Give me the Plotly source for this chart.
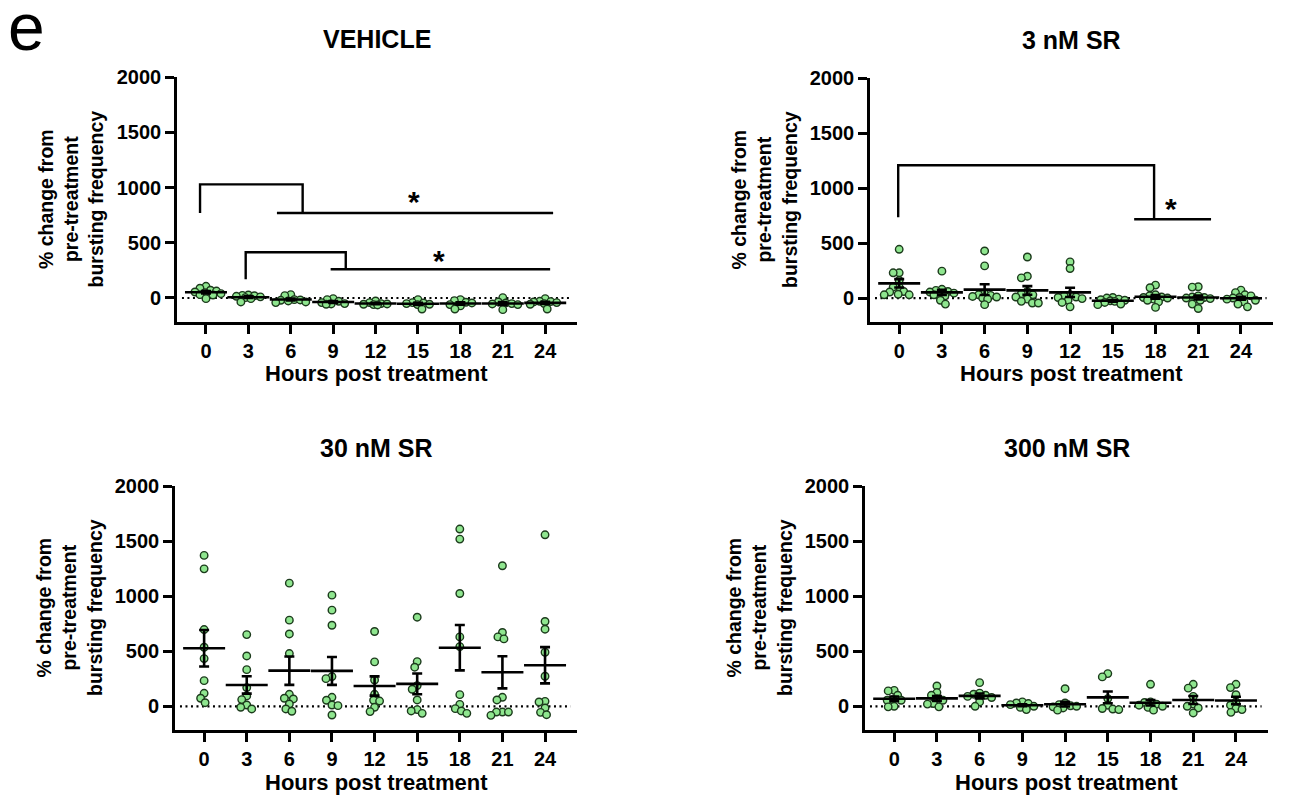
import numpy as np
import plotly.graph_objects as go

W, H = 1290, 798

# ---------------- data ----------------
hours = [0, 3, 6, 9, 12, 15, 18, 21, 24]
hour_labels = [str(h) for h in hours]
y_ticks = [0, 500, 1000, 1500, 2000]
panel_titles = ["VEHICLE", "3 nM SR", "30 nM SR", "300 nM SR"]

vehicle = [
    [106, 88, 70, 63, 54, 48, 39, 30, 27, -6],
    [27, 24, 20, 15, 10, 3, -6, -36],
    [30, 21, -15, -18, -21, -27, -36, -42],
    [-6, -15, -30, -42, -51, -54, -57],
    [-27, -42, -51, -54, -57, -60, -63],
    [-15, -42, -45, -51, -57, -60, -100],
    [-15, -24, -39, -45, -60, -72, -100],
    [3, -36, -45, -51, -54, -60, -106],
    [-6, -30, -33, -36, -42, -51, -57, -100],
]
sr_3nM = [
    [444, 230, 230, 160, 100, 100, 60, 55, 35, 30, 30],
    [245, 80, 70, 60, 55, 45, 40, 30, 20, -20, -55],
    [429, 293, 40, 30, 25, 15, 10, 0, -10, -60],
    [374, 199, 184, 60, 40, 30, 10, -10, -30, -45, -45],
    [329, 269, 30, 20, 10, 5, -5, -20, -40, -80],
    [5, 0, -10, -15, -20, -25, -30, -40, -55, -60],
    [118, 94, 30, 20, 10, 5, 0, -10, -20, -35, -85],
    [103, 100, 20, 10, 5, 0, -5, -10, -20, -55, -95],
    [72, 50, 30, 20, 5, 0, -10, -20, -35, -55, -80],
]
sr_30nM = [
    [1370, 1248, 697, 536, 433, 233, 118, 73, 33],
    [651, 457, 333, 170, 94, 61, 12, -9, -24],
    [1118, 782, 657, 479, 109, 73, 67, 21, -24, -45],
    [1009, 873, 736, 270, 251, 82, 55, 12, 6, -79],
    [679, 403, 239, 109, 55, 48, -9, -48],
    [809, 406, 355, 188, 155, 58, -30, -42, -64],
    [1609, 1518, 1024, 630, 542, 106, 18, -21, -42, -64],
    [1276, 670, 630, 612, 82, 58, -52, -52, -52, -82],
    [1557, 770, 700, 491, 273, 45, 39, -15, -55, -76],
]
sr_300nM = [
    [145, 140, 100, 60, 55, 55, 0, -5],
    [185, 125, 100, 70, 55, 25, 20, -5],
    [215, 120, 110, 100, 90, 80, 40, 0],
    [40, 30, 25, 15, 0, -10, -30],
    [160, 30, 15, 5, 0, -5, -15, -35],
    [297, 267, 70, 10, -20, -25, -30],
    [200, 40, 35, 20, 10, 0, -10, -35],
    [200, 165, 90, 20, 0, -15, -60],
    [200, 170, 105, 40, 10, -20, -30, -55],
]
panel_data = [vehicle, sr_3nM, sr_30nM, sr_300nM]

# ---------------- layout geometry (pixels) ----------------
# (left, right, top, bottom) of each plotting box
boxes = [
    (177, 577, 77.3, 321.7),
    (870, 1273, 78.3, 321.7),
    (175, 577, 486.0, 730.0),
    (865, 1268, 486.0, 730.0),
]
XR = [-2.05, 26.25]
YR = [-215, 2000]

FONT = "Liberation Sans, Arial, Helvetica, sans-serif"
PT_FILL = "#8FE68F"
PT_EDGE = "#1C3A1C"

# significance brackets (data coords) per panel
brackets = {
    0: [
        dict(path=[(-0.42, 770), (-0.42, 1030), (6.84, 1030), (6.84, 770)],
             line=[(5.02, 770), (24.56, 770)], star=(14.7, 930)),
        dict(path=[(2.81, 169), (2.81, 414), (9.89, 414), (9.89, 260)],
             line=[(8.82, 260), (24.35, 260)], star=(16.5, 396)),
    ],
    1: [
        dict(path=[(-0.07, 736), (-0.07, 1209), (17.9, 1209), (17.9, 718)],
             line=[(16.5, 718), (21.9, 718)], star=(19.1, 871)),
    ],
}


def swarm(vals, sx, sy, d=6.0, half=15.0):
    """Beeswarm offsets (in hours) so points spread sideways like GraphPad."""
    vals = np.asarray(vals, dtype=float)
    order = np.argsort(-vals, kind="stable")
    cands = sorted(np.arange(-half, half + 0.01, 0.5), key=lambda c: (abs(c), c))
    placed = []
    offs = np.zeros(len(vals))
    for i in order:
        y = vals[i] * sy
        chosen = None
        best, best_c = -1.0, 0.0
        for c in cands:
            md = min((((c - px) ** 2 + (y - py) ** 2) ** 0.5 for px, py in placed),
                     default=1e9)
            if md >= d:
                chosen = c
                break
            if md > best + 1e-9:
                best, best_c = md, c
        if chosen is None:
            chosen = best_c
        placed.append((chosen, y))
        offs[i] = chosen / sx
    return offs


fig = go.Figure()
shapes = []
annotations = []
layout_axes = {}

for p, (data, box) in enumerate(zip(panel_data, boxes)):
    n = p + 1
    xa = "x" if n == 1 else f"x{n}"
    ya = "y" if n == 1 else f"y{n}"
    l, r, t, b = box
    sx = (r - l) / (XR[1] - XR[0])
    sy = (b - t) / (YR[1] - YR[0])

    axis_common = dict(
        showline=True, linewidth=2.6, linecolor="black", ticks="outside",
        ticklen=9, tickwidth=2.6, tickcolor="black", showgrid=False,
        zeroline=False, tickfont=dict(family=FONT, size=20, color="black", weight="bold"),
        fixedrange=True, automargin=False,
    )
    layout_axes["xaxis" if n == 1 else f"xaxis{n}"] = dict(
        domain=[l / W, r / W], range=XR, anchor=ya,
        tickmode="array", tickvals=hours, ticktext=hour_labels, **axis_common)
    layout_axes["yaxis" if n == 1 else f"yaxis{n}"] = dict(
        domain=[1 - b / H, 1 - t / H], range=YR, anchor=xa,
        tickmode="array", tickvals=y_ticks, ticktext=[str(v) for v in y_ticks],
        **axis_common)

    # dotted zero line
    shapes.append(dict(type="line", xref=xa, yref=ya, x0=-1.7, x1=25.8, y0=0, y1=0,
                       line=dict(color="black", width=2.2, dash="2px,3.5px"), layer="below"))

    # points
    xs, ys = [], []
    for h, vals in zip(hours, data):
        offs = swarm(vals, sx, sy)
        xs.extend(h + offs)
        ys.extend(vals)
    fig.add_trace(go.Scatter(
        x=xs, y=ys, mode="markers", xaxis=xa, yaxis=ya, showlegend=False,
        marker=dict(size=7.5, color=PT_FILL, line=dict(color=PT_EDGE, width=1.4)),
        hoverinfo="skip"))

    # mean +/- SEM
    means = [float(np.mean(v)) for v in data]
    sems = [float(np.std(v, ddof=1) / np.sqrt(len(v))) for v in data]
    fig.add_trace(go.Scatter(
        x=hours, y=means, mode="markers", xaxis=xa, yaxis=ya, showlegend=False,
        marker=dict(symbol="line-ew", size=30, color="black",
                    line=dict(color="black", width=2.6)),
        error_y=dict(type="data", array=sems, visible=True, color="black",
                     thickness=2.6, width=5),
        hoverinfo="skip"))

    # brackets
    for br in brackets.get(p, []):
        pts = br["path"]
        d = "M " + " L ".join(f"{x},{y}" for x, y in pts)
        shapes.append(dict(type="path", xref=xa, yref=ya, path=d,
                           line=dict(color="black", width=2.4)))
        (x0, y0), (x1, y1) = br["line"]
        shapes.append(dict(type="line", xref=xa, yref=ya, x0=x0, x1=x1, y0=y0, y1=y1,
                           line=dict(color="black", width=2.4)))
        sxp, syp = br["star"]
        annotations.append(dict(x=sxp, y=syp, xref=xa, yref=ya, text="<b>*</b>",
                                showarrow=False, yshift=-6,
                                font=dict(family=FONT, size=30, color="black")))

    # panel title
    cx = (l + r) / 2
    annotations.append(dict(x=cx / W, y=1 - (t - 38) / H, xref="paper", yref="paper",
                            text=f"<b>{panel_titles[p]}</b>", showarrow=False,
                            xanchor="center", yanchor="middle",
                            font=dict(family=FONT, size=25, color="black")))
    # x-axis title
    annotations.append(dict(x=cx / W, y=1 - (b + 52) / H, xref="paper", yref="paper",
                            text="<b>Hours post treatment</b>", showarrow=False,
                            xanchor="center", yanchor="middle",
                            font=dict(family=FONT, size=22, color="black")))
    # y-axis title
    annotations.append(dict(x=(l - 106) / W, y=1 - ((t + b) / 2) / H, xref="paper", yref="paper",
                            text="<b>% change from<br>pre-treatment<br>bursting frequency</b>",
                            showarrow=False, textangle=-90,
                            xanchor="center", yanchor="middle",
                            font=dict(family=FONT, size=19.5, color="black")))

annotations.append(dict(x=26 / W, y=1 - 27 / H, xref="paper", yref="paper", text="e",
                        showarrow=False, xanchor="center", yanchor="middle",
                        font=dict(family=FONT, size=66, color="black")))

fig.update_layout(
    width=W, height=H, margin=dict(l=0, r=0, t=0, b=0, pad=0, autoexpand=False),
    paper_bgcolor="white", plot_bgcolor="white",
    shapes=shapes, annotations=annotations, showlegend=False,
    **layout_axes,
)

fig.write_html("out.html")
